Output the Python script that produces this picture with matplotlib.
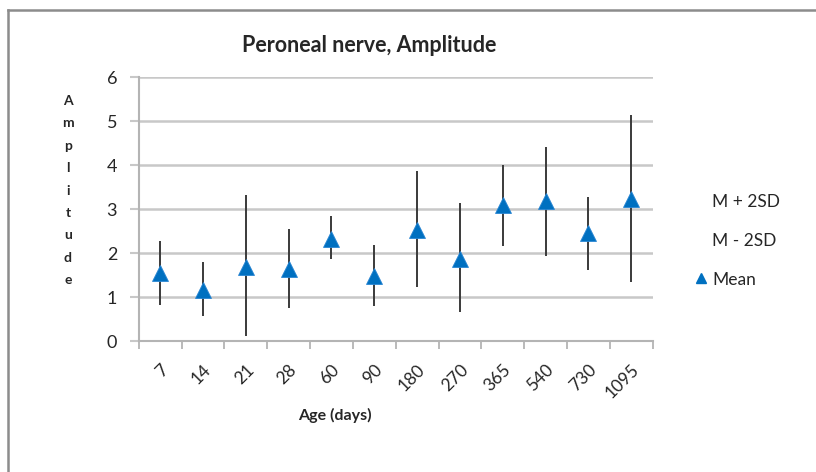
import matplotlib
matplotlib.use("Agg")
import matplotlib.pyplot as plt
import matplotlib.transforms as mtransforms
from matplotlib.lines import Line2D

# Peroneal nerve amplitude by age: mean and mean +/- 2 SD
ages = ["7", "14", "21", "28", "60", "90", "180", "270", "365", "540", "730", "1095"]
mean = [1.55, 1.17, 1.69, 1.63, 2.31, 1.48, 2.52, 1.86, 3.09, 3.18, 2.45, 3.22]
m_plus_2sd = [2.27, 1.80, 3.32, 2.55, 2.84, 2.18, 3.86, 3.13, 3.99, 4.42, 3.27, 5.14]
m_minus_2sd = [0.82, 0.57, 0.11, 0.74, 1.86, 0.80, 1.23, 0.65, 2.17, 1.94, 1.61, 1.35]

FONT = ["Lato", "DejaVu Sans"]
plt.rcParams["font.family"] = FONT
TXT = "#262626"

W, H = 816, 472
fig = plt.figure(figsize=(W / 100, H / 100), dpi=100)
fig.patch.set_facecolor("white")

# chart-area border (top and left visible)
border = "#8c8c8c"
fig.add_artist(Line2D([8 / W, 1.0], [1 - 10 / H, 1 - 10 / H], color=border, lw=1.8,
                      transform=fig.transFigure))
fig.add_artist(Line2D([8 / W, 8 / W], [0.0, 1 - 10 / H], color=border, lw=1.8,
                      transform=fig.transFigure))

ax = fig.add_axes([138.7 / W, (H - 341) / H, 514 / W, 264 / H])
x = list(range(len(ages)))

grid = "#c8c8c8"
ax.set_ylim(0, 6)
ax.set_xlim(-0.5, len(ages) - 0.5)
ax.set_yticks(range(0, 7))
ax.yaxis.grid(True, color=grid, lw=1.8)
ax.set_axisbelow(True)

for s in ["top", "right"]:
    ax.spines[s].set_visible(False)
for s in ["left", "bottom"]:
    ax.spines[s].set_color("#b4b4b4")
    ax.spines[s].set_linewidth(1.5)

ax.vlines(x, m_minus_2sd, m_plus_2sd, color="#3a3a3a", lw=1.4, zorder=2)
ax.plot(x, mean, linestyle="none", marker="^", markersize=11,
        color="#0070c0", markeredgecolor="#2a86d4", markeredgewidth=0.6, zorder=3)

# category ticks sit on the boundaries between ages
ax.set_xticks([i - 0.5 for i in range(len(ages) + 1)], minor=False)
ax.set_xticklabels([])
ax.set_xticks(x, minor=True)
ax.set_xticklabels(ages, minor=True, rotation=45, ha="right", va="top",
                   rotation_mode="anchor", fontsize=12.5, color=TXT)
shift = mtransforms.ScaledTranslation(5 / 100, 0, fig.dpi_scale_trans)
for lbl in ax.get_xticklabels(minor=True):
    lbl.set_transform(lbl.get_transform() + shift)
ax.tick_params(axis="x", which="major", length=6, width=1.3, color="#b4b4b4")
ax.tick_params(axis="x", which="minor", length=0, pad=15)
ax.tick_params(axis="y", length=6.5, width=1.5, color="#c8c8c8", labelsize=13,
               labelcolor=TXT, pad=9)

fig.text(369 / W, 1 - 46 / H, "Peroneal nerve, Amplitude", fontsize=15.5,
         fontweight="bold", ha="center", va="center", color=TXT)
fig.text(335 / W, 1 - 415 / H, "Age (days)", fontsize=11.5, fontweight="bold",
         ha="center", va="center", color=TXT)

# vertical stacked axis title
for i, ch in enumerate("Amplitude"):
    fig.text(68 / W, 1 - (101 + i * 22.4) / H, ch, fontsize=10, fontweight="bold",
             ha="center", va="center", color=TXT)

handles = [Line2D([], [], linestyle="none", marker=None),
           Line2D([], [], linestyle="none", marker=None),
           Line2D([], [], linestyle="none", marker="^", markersize=7, color="#0070c0")]
leg = fig.legend(handles, ["M + 2SD", "M - 2SD", "Mean"], loc="center left",
                 bbox_to_anchor=(680 / W, 1 - 241 / H), frameon=False, fontsize=12.5,
                 labelspacing=1.3, handlelength=0.6, handletextpad=0.35)
for t in leg.get_texts():
    t.set_color(TXT)

fig.savefig("out.png", dpi=100, facecolor="white")
